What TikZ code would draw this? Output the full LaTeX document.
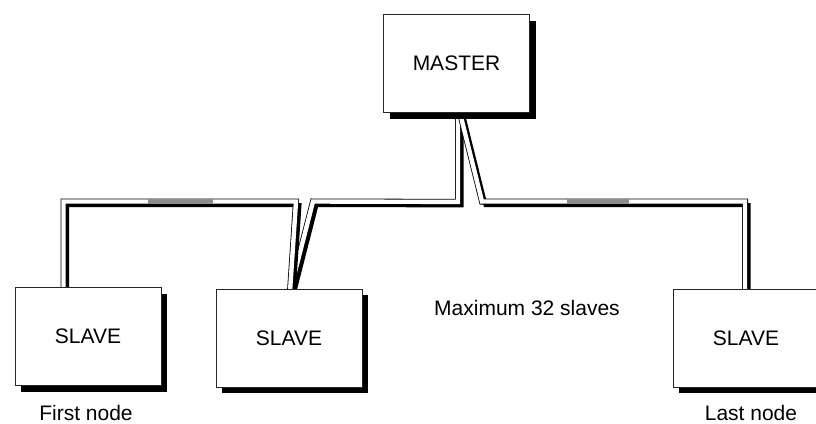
\documentclass[tikz,border=0pt]{standalone}
\usepackage{fontspec}
\setmainfont{Liberation Sans}
\usetikzlibrary{shadows,backgrounds,calc}
\begin{document}
\begin{tikzpicture}[x=1pt,y=-1pt,
	box/.style={draw=black!85,line width=0.8pt,fill=white,minimum width=146pt,minimum height=98pt,inner sep=0pt,
		drop shadow={shadow xshift=6pt,shadow yshift=-6pt,fill=black,opacity=1}},
	cable/.style={line width=0.8pt,double=white,double distance=4.4pt,
		preaction={draw,black,line width=4pt,transform canvas={xshift=3.5pt,yshift=-3.5pt}}},
	core/.style={line width=4.4pt,black!45},
	every node/.style={font=\fontsize{21}{25}\selectfont}]
	\useasboundingbox (0,0) rectangle (816,423);
	\node[box] (master) at (456.5,63.5) {MASTER};
	\node[box] (slave1) at (88,336.5) {SLAVE};
	\node[box] (slave2) at (289,338) {SLAVE};
	\node[box] (slave3) at (746,338) {SLAVE};
	\node[anchor=base] (first) at (86,420) {First node};
	\node[anchor=base] (last) at (751,420) {Last node};
	\node[anchor=base] (max) at (527,315) {Maximum 32 slaves};
	\begin{scope}[on background layer]
		\draw[cable] ([xshift=1.5pt]master.south) -- ++(0,89) -- (313,201.5) -- ([xshift=1pt,yshift=-3pt]slave2.north);
		\draw[cable] ([xshift=1pt,yshift=-3pt]slave2.north) -- (296,201.5) -| ([xshift=-24.5pt,yshift=-3pt]slave1.north);
		\draw[cable] ([xshift=3.5pt]master.south) -- (482,201.5) -| ([xshift=-1pt,yshift=-3pt]slave3.north);
		\draw[core] (148,201.5) -- (213,201.5);
		\draw[core] (567,201.5) -- (629,201.5);
	\end{scope}
\end{tikzpicture}
\end{document}
